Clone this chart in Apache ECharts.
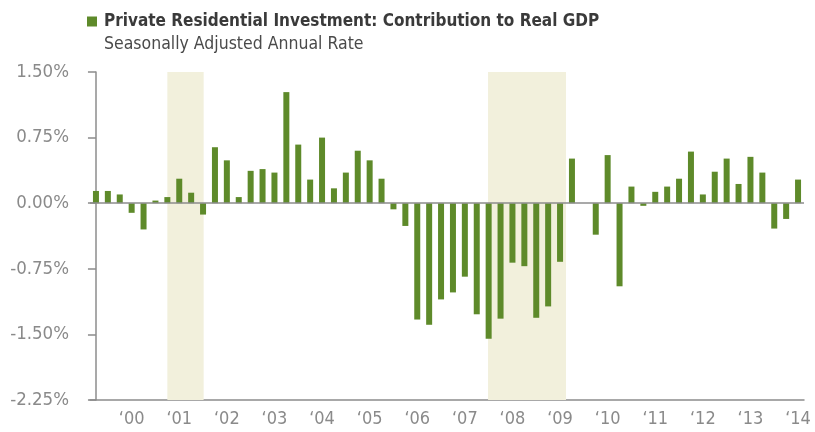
<!DOCTYPE html>
<html>
<head>
<meta charset="utf-8">
<title>Private Residential Investment</title>
<script src="https://cdn.jsdelivr.net/npm/echarts@6/dist/echarts.min.js"></script>
<style>
  html, body { margin: 0; padding: 0; background: #fff; }
  #main { width: 815px; height: 432px; }
</style>
</head>
<body>
<div id="main"></div>
<script>
// quarters 1999 Q2 .. 2014 Q1
var quarters = [];
for (var yr = 1999; yr <= 2014; yr++) {
  for (var q = 1; q <= 4; q++) {
    if ((yr === 1999 && q === 1) || (yr === 2014 && q > 1)) continue;
    quarters.push(yr + 'Q' + q);
  }
}

// contribution to real GDP, % SAAR
var contribution = [
  0.14, 0.14, 0.10, -0.11, -0.30, 0.03, 0.07, 0.28, 0.12, -0.13,
  0.64, 0.49, 0.07, 0.37, 0.39, 0.35, 1.27, 0.67, 0.27, 0.75,
  0.17, 0.35, 0.60, 0.49, 0.28, -0.07, -0.26, -1.33, -1.39, -1.10,
  -1.02, -0.84, -1.27, -1.55, -1.32, -0.68, -0.72, -1.31, -1.18, -0.67,
  0.51, 0.00, -0.36, 0.55, -0.95, 0.19, -0.03, 0.13, 0.19, 0.28,
  0.59, 0.10, 0.36, 0.51, 0.22, 0.53, 0.35, -0.29, -0.18, 0.27
];

// recession bands, in quarter-index units
var recessions = [[6, 9.05], [32.95, 39.5]];

var yTicks = { min: -2.25, max: 1.5, step: 0.75 };

var font = '"Liberation Sans Narrow", "DejaVu Sans Condensed", "Roboto", sans-serif';
var green = '#5e8a2a';
var axisGray = '#8c8c8c';

var chart = echarts.init(document.getElementById('main'));

chart.setOption({
  animation: false,
  textStyle: { fontFamily: font },
  title: {
    text: 'Seasonally Adjusted Annual Rate',
    left: 99,
    top: 30,
    textStyle: { fontFamily: font, fontSize: 17.5, fontWeight: 'normal', color: '#4a4a4a' }
  },
  legend: {
    left: 87,
    top: 13,
    padding: 0,
    itemWidth: 10,
    itemHeight: 10,
    icon: 'rect',
    selectedMode: false,
    textStyle: { fontFamily: font, fontSize: 17, fontWeight: 'bold', color: '#3a3a3a', padding: [0, 0, 0, 2] },
    data: ['Private Residential Investment: Contribution to Real GDP']
  },
  grid: { left: 90, right: 11, top: 72, bottom: 32, outerBoundsMode: 'none' },
  xAxis: [{
    type: 'category',
    data: quarters,
    axisLine: { onZero: false, lineStyle: { color: axisGray, width: 1.5 } },
    axisTick: { show: false },
    axisLabel: {
      interval: function (i) { return i % 4 === 3; },
      formatter: function (v) { return '\u2018' + v.slice(2, 4); },
      fontFamily: font,
      fontSize: 18,
      color: '#8a8a8a',
      margin: 10
    }
  }, {
    type: 'value',
    min: -0.5,
    max: quarters.length - 0.5,
    show: false
  }],
  yAxis: {
    type: 'value',
    min: yTicks.min,
    max: yTicks.max,
    interval: yTicks.step,
    axisLine: { show: true, lineStyle: { color: axisGray, width: 1.5 } },
    axisTick: { show: true, length: 8, lineStyle: { color: axisGray, width: 1.5 } },
    splitLine: { show: false },
    axisLabel: {
      formatter: function (v) { return v.toFixed(2) + '%'; },
      fontFamily: font,
      fontSize: 18.5,
      color: '#8a8a8a',
      margin: 21
    }
  },
  series: [{
    name: 'recessions',
    type: 'line',
    xAxisIndex: 1,
    data: [],
    z: 0,
    silent: true,
    markArea: {
      silent: true,
      itemStyle: { color: '#f2f0dc' },
      data: recessions.map(function (r) { return [{ xAxis: r[0] }, { xAxis: r[1] }]; })
    }
  }, {
    name: 'Private Residential Investment: Contribution to Real GDP',
    type: 'bar',
    data: contribution,
    barWidth: 6,
    z: 2,
    itemStyle: { color: green },
    markLine: {
      silent: true,
      symbol: 'none',
      label: { show: false },
      lineStyle: { color: axisGray, width: 1.5, type: 'solid' },
      data: [{ yAxis: 0 }]
    }
  }]
});
</script>
</body>
</html>
